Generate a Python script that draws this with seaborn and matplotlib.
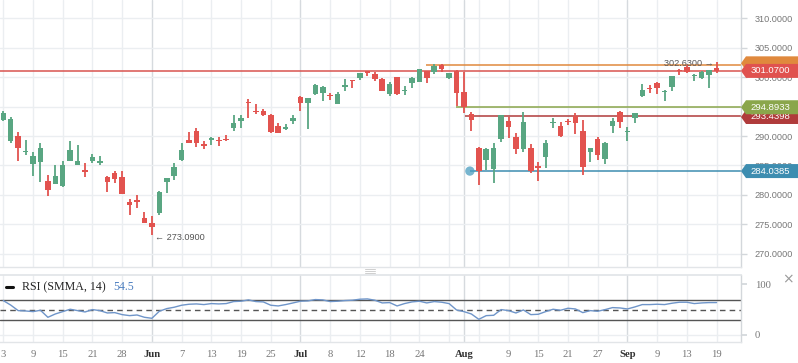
import matplotlib
matplotlib.use("Agg")
import matplotlib.pyplot as plt
import numpy as np
import pandas as pd
import seaborn as sns
from matplotlib.patches import Polygon

# ---------------- data ----------------
opens = [292.72, 289.20, 290.00, 287.30, 285.24, 285.58, 282.35, 281.84, 281.55, 285.80,
         285.12, 284.10, 285.80, 285.45, 282.97, 283.65, 283.03, 278.78, 278.95, 276.05,
         275.20, 276.96, 282.18, 283.25, 285.97, 289.32, 290.85, 288.69, 289.37, 289.20,
         289.45, 291.36, 292.60, 295.70, 294.15, 294.30, 293.57, 291.70, 291.19, 292.55,
         296.63, 295.66, 297.20, 297.37, 296.85, 295.50, 298.40, 299.40, 299.86, 301.00,
         300.49, 299.69, 297.20, 300.03, 297.60, 299.01, 299.23, 301.05, 300.83, 302.07,
         299.91, 301.00, 297.48, 293.79, 287.96, 285.97, 284.44, 289.49, 292.60, 289.83,
         287.73, 287.96, 284.75, 286.43, 292.15, 291.70, 292.48, 293.35, 290.90, 287.28,
         289.54, 286.09, 291.70, 294.08, 290.68, 293.06, 296.80, 298.04, 299.01, 297.43,
         298.38, 301.16, 301.73, 300.15, 299.86, 300.37, 301.56]
highs = [294.25, 293.23, 290.68, 289.30, 287.28, 288.81, 283.37, 285.07, 285.75, 289.15,
         288.47, 285.36, 286.89, 286.60, 283.20, 284.05, 284.05, 279.23, 279.97, 277.07,
         276.39, 280.70, 282.90, 285.41, 288.81, 290.68, 291.36, 289.15, 289.83, 289.83,
         290.12, 293.57, 293.57, 296.24, 295.50, 294.59, 293.74, 292.26, 292.04, 293.57,
         296.75, 296.50, 298.84, 298.50, 297.26, 297.43, 299.69, 299.52, 300.70, 301.05,
         300.94, 299.81, 299.18, 300.03, 298.45, 299.98, 301.45, 301.10, 302.24, 302.24,
         300.75, 301.22, 300.88, 294.08, 288.08, 287.96, 288.81, 293.60, 293.28, 290.56,
         294.08, 288.64, 285.58, 289.32, 293.00, 292.43, 292.84, 293.91, 292.72, 288.00,
         289.77, 289.03, 293.06, 294.25, 291.58, 293.95, 298.84, 298.62, 299.18, 297.82,
         300.20, 301.45, 302.07, 300.54, 301.05, 301.20, 302.63]
lows = [292.55, 288.86, 285.80, 286.77, 283.20, 282.18, 279.80, 281.80, 281.33, 285.80,
        285.10, 283.08, 285.46, 285.12, 280.48, 282.06, 280.14, 276.62, 277.80, 275.20,
        273.09, 276.56, 280.36, 282.52, 285.80, 288.86, 288.13, 287.84, 288.52, 288.25,
        289.10, 290.90, 291.36, 293.11, 293.79, 293.40, 290.56, 290.46, 291.02, 291.99,
        294.30, 291.24, 297.02, 296.00, 296.17, 295.50, 297.70, 298.20, 299.57, 300.26,
        299.40, 297.65, 296.75, 296.97, 297.02, 298.20, 299.13, 299.06, 300.60, 300.94,
        299.64, 295.15, 293.96, 290.90, 281.72, 284.27, 282.06, 288.98, 289.66, 286.94,
        287.33, 283.76, 282.40, 284.61, 291.36, 289.77, 291.82, 290.34, 283.37, 285.58,
        285.87, 285.24, 290.51, 291.36, 289.20, 292.21, 296.63, 297.31, 297.14, 295.95,
        297.65, 300.43, 300.77, 299.35, 299.74, 298.20, 300.77]
closes = [293.86, 292.89, 288.01, 287.45, 286.60, 287.96, 280.82, 283.20, 285.07, 287.62,
          285.75, 283.95, 286.43, 285.60, 282.18, 282.74, 280.14, 278.32, 278.85, 275.26,
          274.57, 280.48, 282.86, 284.73, 287.62, 288.86, 288.86, 288.35, 289.71, 289.10,
          289.30, 292.21, 293.06, 295.60, 294.00, 293.57, 290.73, 290.46, 291.53, 293.06,
          295.66, 296.46, 298.67, 298.33, 296.75, 297.14, 298.50, 299.30, 300.66, 300.77,
          299.74, 297.70, 298.84, 297.14, 297.82, 299.86, 301.39, 299.91, 301.90, 301.39,
          300.71, 297.37, 294.93, 292.77, 284.05, 287.73, 287.96, 293.57, 291.53, 287.79,
          292.43, 284.05, 284.60, 288.81, 292.27, 290.00, 292.38, 292.26, 284.78, 287.96,
          286.77, 288.86, 292.60, 292.38, 290.78, 293.91, 297.82, 297.94, 298.20, 297.65,
          300.20, 301.06, 300.94, 300.25, 300.88, 301.17, 301.07]
rsi = [68.0, 59.0, 48.0, 47.3, 46.0, 48.7, 34.7, 41.3, 46.0, 50.7,
       48.0, 45.3, 50.0, 48.0, 43.3, 44.0, 40.0, 38.0, 39.3, 34.7,
       32.7, 46.7, 52.0, 54.7, 58.7, 60.7, 61.3, 60.0, 62.0, 61.3,
       62.0, 66.0, 66.7, 69.3, 66.0, 65.3, 58.7, 57.3, 60.0, 63.3,
       66.7, 67.3, 70.0, 69.3, 66.0, 66.7, 68.0, 68.7, 70.7, 71.3,
       68.7, 63.3, 64.0, 57.3, 62.0, 65.3, 66.7, 63.3, 66.0, 64.7,
       62.0, 49.3, 46.0, 41.3, 30.7, 38.0, 38.7, 50.0, 48.0, 43.3,
       49.3, 40.0, 40.7, 46.0, 50.7, 48.7, 52.7, 51.3, 44.0, 48.0,
       46.7, 50.0, 54.0, 53.3, 51.3, 55.3, 60.0, 60.0, 60.7, 60.0,
       62.7, 64.7, 64.7, 62.0, 63.3, 64.0, 64.0]

tick_pos = [0, 4, 8, 12, 16, 20, 24, 28, 32, 36, 40, 44, 48, 52, 56, 62, 68, 72, 76, 80, 84, 88, 92, 96]
tick_labels = ["3", "9", "15", "21", "28", "Jun", "7", "13", "19", "25", "Jul", "8", "12", "18",
               "24", "Aug", "9", "15", "21", "27", "Sep", "9", "13", "19"]
extra_grid = [60, 64]
month_labels = ["Jun", "Jul", "Aug", "Sep"]
price_ticks = [270, 275, 280, 285, 290, 295, 300, 305, 310]
rsi_ticks = [0, 100]

level_last = 301.07
level_orange = 302.02
level_olive = 294.8933
level_darkred = 293.4398
level_blue = 284.0385

# ---------------- style ----------------
sns.set_theme(style="white")
plt.rcParams["font.family"] = ["DejaVu Sans"]

GREEN = "#59a682"
RED = "#e2534f"
GRID = "#ebeef1"
MGRID = "#d6dade"

W, H = 798, 363
fig = plt.figure(figsize=(W / 100, H / 100), dpi=100)
fig.patch.set_facecolor("white")


def fx(px):
    return px / W


def fy(py):
    return 1 - py / H


ax = fig.add_axes([0, fy(266.5), fx(741), fy(0) - fy(266.5)])
axr = fig.add_axes([0, fy(342), fx(741), fy(274.7) - fy(342)])

XMIN, XMAX = -0.444, 99.29

df = pd.DataFrame({"i": np.arange(len(opens)), "open": opens, "high": highs,
                   "low": lows, "close": closes, "rsi": rsi})
df["up"] = df["close"] >= df["open"]
df["color"] = np.where(df["up"], GREEN, RED)
df["bottom"] = df[["open", "close"]].min(axis=1)
df["height"] = (df["close"] - df["open"]).abs().clip(lower=0.22)

# ---------------- main chart ----------------
for a in (ax, axr):
    a.set_xlim(XMIN, XMAX)
    a.set_facecolor("white")
    for p in tick_pos + extra_grid:
        lab = tick_labels[tick_pos.index(p)] if p in tick_pos else ""
        a.axvline(p, color=MGRID if lab in month_labels else GRID, lw=1, zorder=0)
    for s in ("left", "top"):
        a.spines[s].set_visible(False)
    a.spines["right"].set_color("#d3d7db")
    a.spines["bottom"].set_color("#e2e5e8")
    a.spines["right"].set_linewidth(1)
    a.spines["bottom"].set_linewidth(1)

ax.set_ylim(267.81, 313.13)
for v in price_ticks:
    ax.axhline(v, color=GRID, lw=1, zorder=0)

ax.vlines(df["i"], df["low"], df["high"], colors=df["color"], lw=1.3, zorder=3)
ax.bar(df["i"], df["height"], bottom=df["bottom"], width=0.74, color=df["color"],
       edgecolor="none", zorder=4)

# horizontal study lines
ax.hlines(level_last, XMIN, XMAX, color="#d9534f", lw=1.1, zorder=2)
ax.hlines(level_orange, 56.9, XMAX, color="#e0893d", lw=1.1, zorder=2)
ax.hlines(level_olive, 60.9, XMAX, color="#8aa64b", lw=1.1, zorder=2)
ax.hlines(level_darkred, 62.2, XMAX, color="#b03b3b", lw=1.1, zorder=2)
ax.hlines(level_blue, 62.8, XMAX, color="#3d8db0", lw=1.1, zorder=2)
ax.scatter([62.8], [level_blue], s=45, color="#4a9dc0", alpha=0.75, edgecolor="none", zorder=5)

imin = int(np.argmin(lows))
imax = int(np.argmax(highs))
ax.annotate("\u2190 %.4f" % lows[imin], xy=(imin, lows[imin]), xytext=(2, -1.3),
            textcoords="offset points", ha="left", va="center", fontsize=6.6,
            color="#555555", family=["Liberation Sans", "DejaVu Sans"], zorder=6)
ax.annotate("%.4f \u2192" % highs[imax], xy=(imax, highs[imax]), xytext=(-2, -1.0),
            textcoords="offset points", ha="right", va="center", fontsize=6.6,
            color="#555555", family=["Liberation Sans", "DejaVu Sans"], zorder=6)

ax.yaxis.tick_right()
ax.set_yticks(price_ticks)
ax.set_yticklabels(["%.4f" % v for v in price_ticks])
ax.tick_params(axis="y", right=True, length=4, width=1, color="#d3d7db", pad=6,
               labelsize=6.6, labelcolor="#777777")
for t in ax.get_yticklabels():
    t.set_family(["Liberation Sans", "DejaVu Sans"])
ax.set_xticks([])

# ---------------- RSI panel ----------------
axr.set_ylim(-14.5, 119.5)
axr.axhline(0, color=GRID, lw=1, zorder=0)
axr.axhline(70, color="#555555", lw=1, zorder=2)
axr.axhline(30, color="#555555", lw=1, zorder=2)
axr.axhline(50, color="#555555", lw=1, ls=(0, (4, 3)), zorder=2)
axr.spines["top"].set_visible(True)
axr.spines["top"].set_color("#e2e5e8")
sns.lineplot(data=df, x="i", y="rsi", ax=axr, color="#6f95c9", lw=1, zorder=3)
axr.set_xlabel("")
axr.set_ylabel("")
axr.set_xlim(XMIN, XMAX)

axr.yaxis.tick_right()
axr.set_yticks(rsi_ticks)
axr.set_yticklabels([str(v) for v in rsi_ticks])
axr.tick_params(axis="y", right=True, length=4, color="#d3d7db", pad=6,
                labelsize=7.7, labelcolor="#777777")
for t in axr.get_yticklabels():
    t.set_family(["Liberation Serif", "DejaVu Serif"])

axr.set_xticks(tick_pos)
axr.set_xticklabels(tick_labels)
axr.tick_params(axis="x", bottom=True, length=0, pad=6, labelsize=7.7, labelcolor="#777777")
for t in axr.get_xticklabels():
    t.set_family(["Liberation Serif", "DejaVu Serif"])
    if t.get_text() in month_labels:
        t.set_fontweight("bold")
        t.set_color("#333333")

# RSI legend
fig.add_artist(plt.Line2D([fx(5.5), fx(12.5)], [fy(286.5), fy(286.5)], color="#111111",
                          lw=2.2, transform=fig.transFigure))
fig.text(fx(22.5), fy(286.8), "RSI (SMMA, 14)", fontsize=8.6, color="#222222",
         family=["Liberation Serif", "DejaVu Serif"], ha="left", va="center")
fig.text(fx(113), fy(286.8), "54.5", fontsize=8.6, color="#4d7fc0",
         family=["Liberation Serif", "DejaVu Serif"], ha="left", va="center")
fig.text(fx(788), fy(279.5), "\u00d7", fontsize=10, color="#9a9a9a", ha="center", va="center")

# panel separator handle
for dy in (-1.8, 0, 1.8):
    fig.add_artist(plt.Line2D([fx(365), fx(375)], [fy(271 + dy), fy(271 + dy)],
                              color="#cfcfcf", lw=0.7, transform=fig.transFigure))


# ---------------- price tags ----------------
def price_to_py(v):
    y0, y1 = ax.get_ylim()
    return 266.5 * (y1 - v) / (y1 - y0)


def tag(py, color, text, z):
    x0, x1, h = 741, 798, 7
    pts = [(x0, py), (x0 + 5, py - h), (x1, py - h), (x1, py + h), (x0 + 5, py + h)]
    poly = Polygon([(fx(a), fy(b)) for a, b in pts], closed=True, transform=fig.transFigure,
                   facecolor=color, edgecolor="none", zorder=z)
    fig.add_artist(poly)
    if text:
        fig.text(fx(770), fy(py), text, color="white", ha="center", va="center",
                 fontsize=6.8, family=["Liberation Sans", "DejaVu Sans"], zorder=z + 0.5)


tag(price_to_py(level_orange) - 2.0, "#e0893d", "", 10)
tag(price_to_py(level_last), "#e0524f", "%.4f" % level_last, 11)
tag(price_to_py(level_darkred) + 1.2, "#b03b3b", "%.4f" % level_darkred, 12)
tag(price_to_py(level_olive), "#8aa64b", "%.4f" % level_olive, 13)
tag(price_to_py(level_blue), "#3d8db0", "%.4f" % level_blue, 14)

fig.savefig("out.png", dpi=100, facecolor="white")
